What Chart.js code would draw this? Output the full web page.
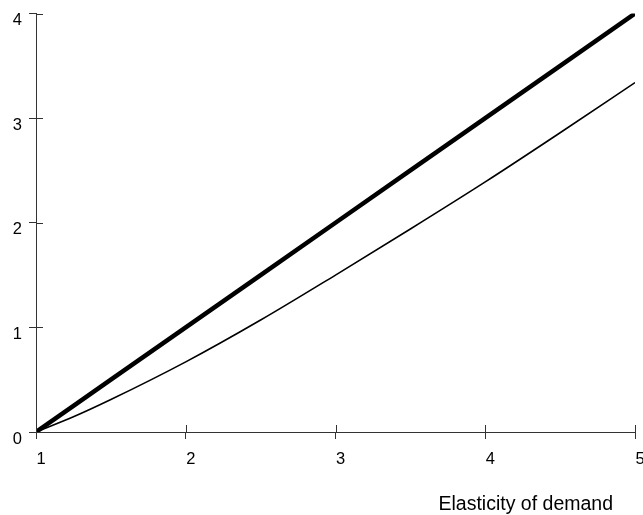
<!DOCTYPE html>
<html>
<head>
<meta charset="utf-8">
<script src="https://cdn.jsdelivr.net/npm/chart.js@4/dist/chart.umd.min.js"></script>
<style>
  html, body { margin: 0; padding: 0; background: #fff; overflow: hidden; }
  #c { display: block; }
</style>
</head>
<body>
<canvas id="c" width="660" height="515"></canvas>
<script>
const elasticity = [1, 1.25, 1.5, 2, 2.5, 3, 3.5, 4, 4.5, 5];
const thickSeries = [0, 0.25, 0.5, 1, 1.5, 2, 2.5, 3, 3.5, 4];
const thinSeries = [0, 0.145, 0.31, 0.67, 1.07, 1.50, 1.94, 2.39, 2.86, 3.34];
const xTicks = [1, 2, 3, 4, 5];
const yTicks = [0, 1, 2, 3, 4];
const xTitle = 'Elasticity of demand';

const axisColor = '#333';
const font = { family: 'Liberation Sans, Arial, sans-serif', size: 16.5 };

function toPoints(xs, ys) {
  return xs.map((x, i) => ({ x: x, y: ys[i] }));
}

// inner half of the tick marks (ticks cross the axis line) + axis title
const innerTicks = {
  id: 'innerTicks',
  afterDraw(chart) {
    const ctx = chart.ctx;
    const xs = chart.scales.x, ys = chart.scales.y;
    const area = chart.chartArea;
    ctx.save();
    ctx.strokeStyle = axisColor;
    ctx.lineWidth = 1;
    ctx.beginPath();
    xTicks.forEach(v => {
      const px = Math.round(xs.getPixelForValue(v)) + 0.5;
      ctx.moveTo(px, area.bottom);
      ctx.lineTo(px, area.bottom - 7);
    });
    yTicks.forEach(v => {
      const py = Math.round(ys.getPixelForValue(v)) + 0.5;
      ctx.moveTo(area.left, py);
      ctx.lineTo(area.left + 7, py);
    });
    ctx.stroke();

    ctx.fillStyle = '#000';
    ctx.font = '19.5px ' + font.family;
    ctx.textAlign = 'right';
    ctx.textBaseline = 'alphabetic';
    ctx.fillText(xTitle, area.right - 22, area.bottom + 78);
    ctx.restore();
  }
};

window.addEventListener('load', () => {
  new Chart(document.getElementById('c'), {
    type: 'line',
    data: {
      datasets: [
        {
          data: toPoints(elasticity, thickSeries),
          borderColor: '#000',
          borderWidth: 4.5,
          pointRadius: 0,
          fill: false
        },
        {
          data: toPoints(elasticity, thinSeries),
          borderColor: '#000',
          borderWidth: 1.6,
          pointRadius: 0,
          cubicInterpolationMode: 'monotone',
          fill: false
        }
      ]
    },
    options: {
      responsive: false,
      animation: false,
      events: [],
      layout: { padding: { top: 13.5, right: 25, bottom: 0, left: 0 } },
      plugins: { legend: { display: false }, tooltip: { enabled: false } },
      scales: {
        x: {
          type: 'linear',
          min: 1,
          max: 5,
          afterFit: s => { s.height = 83; s.paddingLeft = 0; s.paddingRight = 0; },
          afterBuildTicks: s => { s.ticks = xTicks.map(v => ({ value: v })); },
          border: { color: axisColor, width: 1 },
          grid: { drawOnChartArea: false, drawTicks: true, tickLength: 7, color: axisColor },
          ticks: { color: '#000', font: font, padding: 11, labelOffset: 5, maxRotation: 0 }
        },
        y: {
          type: 'linear',
          min: 0,
          max: 4,
          afterFit: s => { s.width = 36; s.paddingTop = 0; s.paddingBottom = 0; },
          afterBuildTicks: s => { s.ticks = yTicks.map(v => ({ value: v })); },
          border: { color: axisColor, width: 1 },
          grid: { drawOnChartArea: false, drawTicks: true, tickLength: 7, color: axisColor },
          ticks: { color: '#000', font: font, padding: 7, labelOffset: 7 }
        }
      }
    },
    plugins: [innerTicks]
  });
});
</script>
</body>
</html>
